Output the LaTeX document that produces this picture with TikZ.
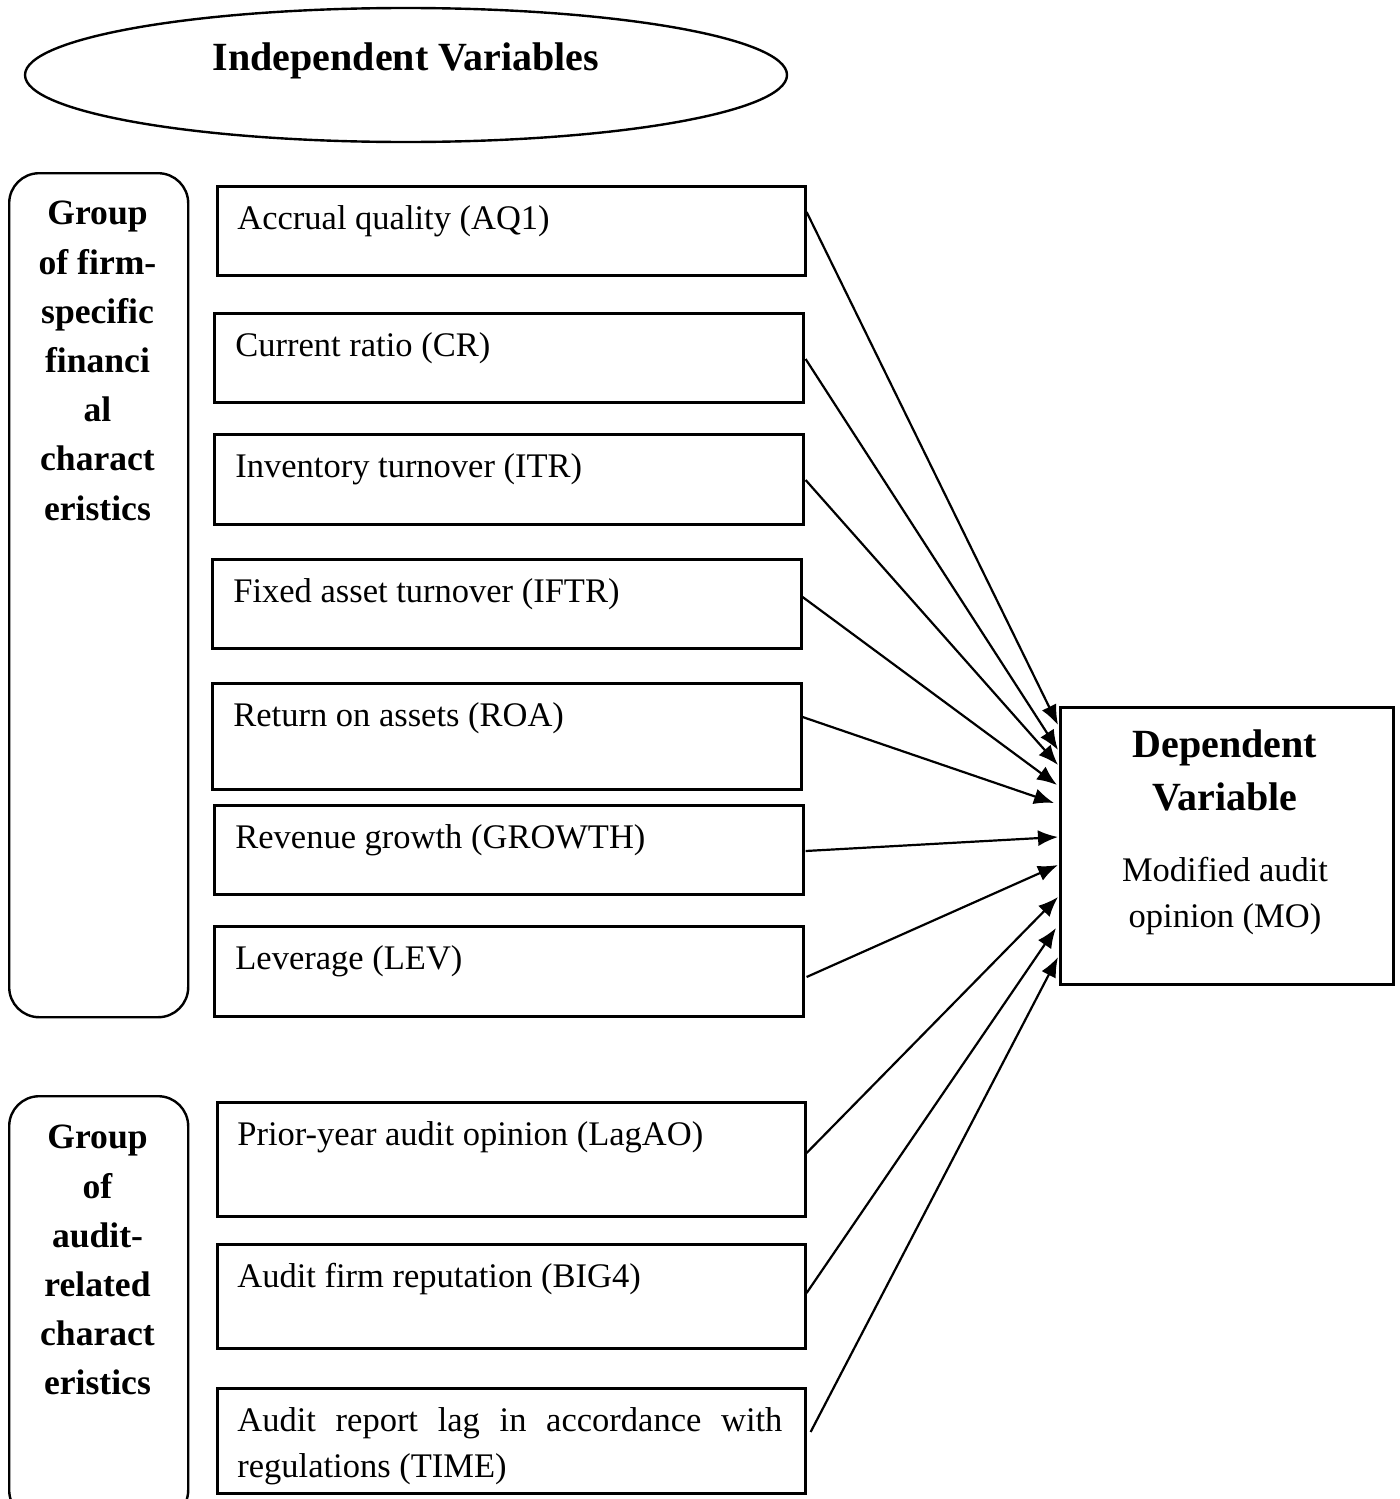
\documentclass[tikz,border=0pt]{standalone}
\usepackage{fontspec}
\setmainfont{Liberation Serif}
\usetikzlibrary{arrows.meta,calc,shapes.geometric}
\begin{document}
\begin{tikzpicture}[x=0.5pt,y=-0.5pt,
  box/.style={draw, line width=1.3pt, rectangle, inner sep=0pt, anchor=north west},
  itemtext/.style={anchor=west, inner sep=0pt, font=\fontsize{17.25}{23}\selectfont},
  grp/.style={draw, line width=1.2pt, rectangle, rounded corners=15pt, inner sep=0pt, anchor=north west},
  grptext/.style={anchor=north, align=center, inner sep=0pt, font=\bfseries\fontsize{17.8}{24.6}\selectfont},
  conn/.style={line width=1.1pt, -{Latex[length=10pt,width=8pt]}}
]
\useasboundingbox (0,0) rectangle (1400,1499);

% title ellipse
\node[draw, ellipse, line width=1.2pt, minimum width=381pt, minimum height=67pt, inner sep=0pt] (iv) at (406,75) {};
\node[font=\bfseries\fontsize{20}{24}\selectfont, inner sep=0pt] (ivt) at (406,61) {Independent Variables};

% group boxes
\begin{scope}
\clip (0,0) rectangle (1400,1499);
\node[grp, minimum width=89.5pt, minimum height=422pt] (g1) at (8,172) {};
\node[grp, minimum width=89.5pt, minimum height=212pt] (g2) at (8,1095) {};
\end{scope}
\node[grptext] (g1t) at (97.5,201) {Group\\of firm-\\specific\\financi\\al\\charact\\eristics};
\node[grptext] (g2t) at (97.5,1125) {Group\\of\\audit-\\related\\charact\\eristics};

% variable boxes
\node[box, minimum width=294pt, minimum height=44.5pt] (b1) at (216,185) {};
\node[box, minimum width=294.5pt, minimum height=44.5pt] (b2) at (213,312) {};
\node[box, minimum width=294.5pt, minimum height=45pt] (b3) at (213,433) {};
\node[box, minimum width=294.5pt, minimum height=44.5pt] (b4) at (211,558) {};
\node[box, minimum width=294.5pt, minimum height=53pt] (b5) at (211,682) {};
\node[box, minimum width=294.5pt, minimum height=44.5pt] (b6) at (213,804) {};
\node[box, minimum width=294.5pt, minimum height=45pt] (b7) at (213,925) {};
\node[box, minimum width=294pt, minimum height=57pt] (b8) at (216,1101) {};
\node[box, minimum width=294pt, minimum height=52pt] (b9) at (216,1243) {};
\node[box, minimum width=294pt, minimum height=52.5pt] (b10) at (216,1387) {};

\node[itemtext] (t1) at ($(b1.north west)+(21,36)$) {Accrual quality (AQ1)};
\node[itemtext] (t2) at ($(b2.north west)+(22,36)$) {Current ratio (CR)};
\node[itemtext] (t3) at ($(b3.north west)+(22,36)$) {Inventory turnover (ITR)};
\node[itemtext] (t4) at ($(b4.north west)+(22,36)$) {Fixed asset turnover (IFTR)};
\node[itemtext] (t5) at ($(b5.north west)+(22,36)$) {Return on assets (ROA)};
\node[itemtext] (t6) at ($(b6.north west)+(22,36)$) {Revenue growth (GROWTH)};
\node[itemtext] (t7) at ($(b7.north west)+(22,36)$) {Leverage (LEV)};
\node[itemtext] (t8) at ($(b8.north west)+(21,36)$) {Prior-year audit opinion (LagAO)};
\node[itemtext] (t9) at ($(b9.north west)+(21,36)$) {Audit firm reputation (BIG4)};
\node[itemtext] (t10a) at ($(b10.north west)+(21,36)$) {\makebox[272.5pt][s]{Audit report lag in accordance with}};
\node[itemtext] (t10b) at ($(b10.north west)+(21,82)$) {regulations (TIME)};

% dependent variable
\node[box, minimum width=166.5pt, minimum height=138.5pt] (dv) at (1059,706) {};
\node[align=center, inner sep=0pt, font=\bfseries\fontsize{20}{26.5}\selectfont] (dvh) at (1225,770) {Dependent\\Variable};
\node[align=center, inner sep=0pt, font=\fontsize{17.25}{23}\selectfont] (dvt) at (1225,896) {Modified audit\\opinion (MO)};

% connectors
\draw[conn] ($(b1.north east)+(0,27)$) -- ($(dv.north west)+(-1,19)$);
\draw[conn] ($(b2.north east)+(1,47)$) -- ($(dv.north west)+(-1,44)$);
\draw[conn] ($(b3.north east)+(1,47)$) -- ($(dv.north west)+(-1,59)$);
\draw[conn] ($(b4.north east)+(0,39)$) -- ($(dv.north west)+(-2,79)$);
\draw[conn] ($(b5.north east)+(0,35)$) -- ($(dv.north west)+(-5,97)$);
\draw[conn] ($(b6.north east)+(1,47)$) -- ($(dv.north west)+(-1,131)$);
\draw[conn] ($(b7.north east)+(2,52)$) -- ($(dv.north west)+(-1,159)$);
\draw[conn] ($(b8.north east)+(0,52)$) -- ($(dv.north west)+(-1,191)$);
\draw[conn] ($(b9.north east)+(0,50)$) -- ($(dv.north west)+(-3,222)$);
\draw[conn] ($(b10.north east)+(4,45)$) -- ($(dv.north west)+(-1,251)$);
\end{tikzpicture}
\end{document}
